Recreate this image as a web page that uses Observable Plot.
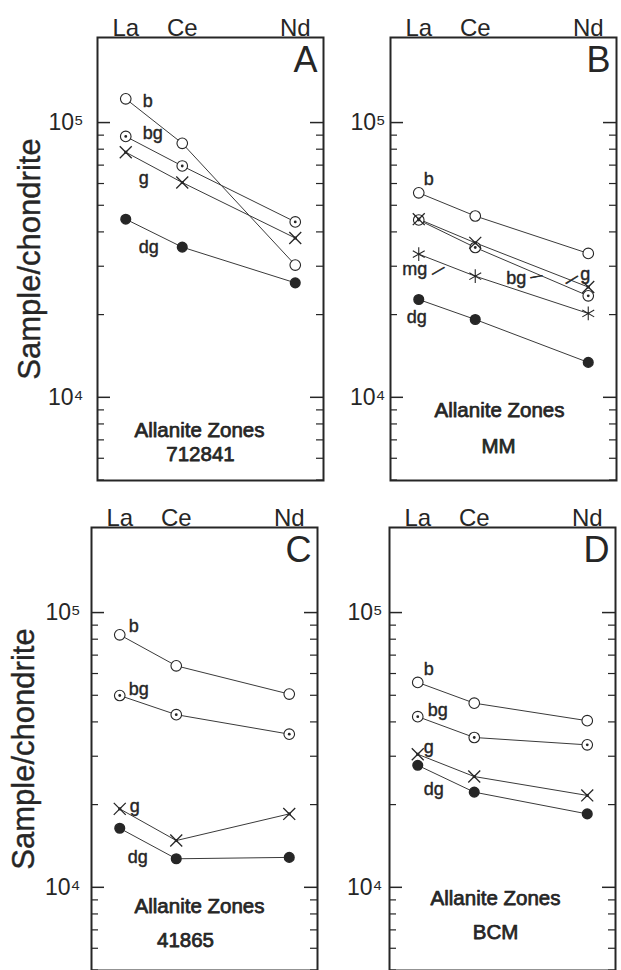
<!DOCTYPE html>
<html>
<head>
<meta charset="utf-8">
<script src="https://cdn.jsdelivr.net/npm/d3@7"></script>
<script src="https://cdn.jsdelivr.net/npm/@observablehq/plot@0.6"></script>
<style>
  body { margin: 0; background: #fff; }
  #chart { position: relative; width: 621px; height: 970px; overflow: hidden; background: #fff; }
  #chart svg { position: absolute; }
</style>
</head>
<body>
<div id="chart"></div>
<script>
// ---- categories ----
const elements = ["La", "Ce", "Nd"];
const atomicNumbers = [57, 58, 60];

// ---- tick values ----
const majorTicks = [1e4, 1e5];
const minorTicks = [5000, 6000, 7000, 8000, 9000, 2e4, 3e4, 4e4, 5e4, 6e4, 7e4, 8e4, 9e4];

// ---- Panel A : 712841 ----
const A_b  = [122000, 84000, 30300];
const A_bg = [89000, 69500, 43500];
const A_g  = [78000, 60500, 38000];
const A_dg = [44500, 35200, 26100];

// ---- Panel B : MM ----
const B_b  = [55500, 45700, 33400];
const B_bg = [44200, 35100, 23400];
const B_g  = [44500, 36500, 25200];
const B_mg = [33200, 27600, 20200];
const B_dg = [22700, 19200, 13400];

// ---- Panel C : 41865 ----
const C_b  = [83000, 64000, 50500];
const C_bg = [49900, 42500, 36100];
const C_g  = [19300, 14800, 18500];
const C_dg = [16400, 12700, 12850];

// ---- Panel D : BCM ----
const D_b  = [55700, 46800, 40400];
const D_bg = [41800, 35100, 33000];
const D_g  = [30500, 25300, 21600];
const D_dg = [27800, 22200, 18500];

const ink = "#262626";
const font = "'Liberation Sans', Arial, Helvetica, sans-serif";

function table(series) {
  const rows = [];
  for (const [zone, values] of series) {
    values.forEach((v, i) => rows.push({zone, el: elements[i], z: atomicNumbers[i], v}));
  }
  return rows;
}

const markerStyles = {
  b:  [{symbol: "circle", fill: "white", stroke: ink, r: 5.3, strokeWidth: 1.1}],
  bg: [{symbol: "circle", fill: "white", stroke: ink, r: 5.3, strokeWidth: 1.1}, {symbol: "circle", fill: ink, r: 1.4}],
  g:  [{symbol: "times", stroke: ink, r: 5.5, strokeWidth: 1.3}, {symbol: "square", fill: ink, r: 1.7}],
  mg: [{symbol: "asterisk", stroke: ink, r: 6.5, strokeWidth: 1.1}],
  dg: [{symbol: "circle", fill: ink, stroke: ink, r: 4.8}]
};

function panel(cfg) {
  const W = 226, H = 443;
  const rows = table(cfg.series);
  const zonesHere = cfg.series.map(d => d[0]);
  const marks = [
    Plot.frame({stroke: ink, strokeWidth: 2}),
    Plot.axisX(atomicNumbers, {
      anchor: "top", tickSize: 0, tickPadding: 2, label: null,
      tickFormat: d => elements[atomicNumbers.indexOf(d)],
      fontSize: 24, fill: ink, stroke: ink, strokeWidth: 0.3
    }),
    Plot.axisY(majorTicks, {
      anchor: "left", tickSize: 0, tickPadding: cfg.tickPad, label: null,
      tickFormat: d => d === 1e4 ? "10\u2074" : "10\u2075",
      fontSize: 23, fill: ink
    }),
    Plot.tickY(majorTicks, {insetRight: W - 13, stroke: ink, strokeWidth: 1.5}),
    Plot.tickY(majorTicks, {insetLeft: W - 13, stroke: ink, strokeWidth: 1.5}),
    Plot.tickY(minorTicks, {insetRight: W - 7, stroke: ink, strokeWidth: 1.2}),
    Plot.tickY(minorTicks, {insetLeft: W - 7, stroke: ink, strokeWidth: 1.2}),
    Plot.line(rows, {x: "z", y: "v", z: "zone", stroke: "#3a3a3a", strokeWidth: 1})
  ];
  for (const zone of zonesHere) {
    const sub = rows.filter(d => d.zone === zone);
    for (const st of markerStyles[zone]) {
      marks.push(Plot.dot(sub, {x: "z", y: "v", ...st}));
    }
  }
  for (const lab of cfg.labels) {
    const row = rows.find(d => d.zone === lab.zone && d.el === lab.at);
    marks.push(Plot.text([row], {
      x: "z", y: "v", text: () => lab.text ?? lab.zone,
      dx: lab.dx, dy: lab.dy, fontSize: lab.size ?? 18, rotate: lab.rotate ?? 0,
      fill: ink, stroke: ink, strokeWidth: lab.text ? 0.6 : 0.4, textAnchor: "middle", lineAnchor: "middle"
    }));
  }
  // panel letter
  marks.push(Plot.text([cfg.letter], {
    frameAnchor: "top-right", text: d => d, dx: -6, dy: 9,
    fontSize: 36, fontWeight: 300, fill: ink, textAnchor: "end", lineAnchor: "top"
  }));
  // caption inside frame
  marks.push(Plot.text(["Allanite Zones"], {
    frameAnchor: "bottom", text: d => d, dx: cfg.capDx, dy: cfg.capDy,
    fontSize: 20.5, fill: ink, stroke: ink, strokeWidth: 0.75, textAnchor: "middle", lineAnchor: "middle"
  }));
  marks.push(Plot.text([cfg.sample], {
    frameAnchor: "bottom", text: d => d, dx: cfg.nameDx, dy: cfg.nameDy,
    fontSize: 20.5, fill: ink, stroke: ink, strokeWidth: 0.75, textAnchor: "middle", lineAnchor: "middle"
  }));
  if (cfg.yLabel) {
    marks.push(Plot.text(["Sample/chondrite"], {
      frameAnchor: "left", text: d => d, rotate: -90, dx: cfg.yLabelDx, dy: cfg.yLabelDy,
      fontSize: 31, fill: ink, stroke: ink, strokeWidth: 0.4, textAnchor: "middle", lineAnchor: "middle"
    }));
  }
  const svg = Plot.plot({
    width: cfg.ml + W + cfg.mr,
    height: cfg.mt + H + cfg.mb,
    marginLeft: cfg.ml, marginRight: cfg.mr, marginTop: cfg.mt, marginBottom: cfg.mb,
    x: {domain: [56.5, 60.5]},
    y: {type: "log", domain: [4980, 2.04e5]},
    style: {fontFamily: font, background: "transparent", color: ink, overflow: "visible"},
    marks
  });
  svg.style.left = cfg.left + "px";
  svg.style.top = cfg.top + "px";
  document.getElementById("chart").appendChild(svg);
}

panel({
  letter: "A", sample: "712841",
  series: [["b", A_b], ["bg", A_bg], ["g", A_g], ["dg", A_dg]],
  labels: [
    {zone: "b", at: "La", dx: 22, dy: 2},
    {zone: "bg", at: "La", dx: 27, dy: -3},
    {zone: "g", at: "La", dx: 18, dy: 26},
    {zone: "dg", at: "La", dx: 23, dy: 28}
  ],
  left: 0, top: 0, ml: 97, mr: 3, mt: 37, mb: 3,
  tickPad: 14, capDx: -11, capDy: -50, nameDx: -10, nameDy: -26,
  yLabel: true, yLabelDx: -67, yLabelDy: 0
});

panel({
  letter: "B", sample: "MM",
  series: [["b", B_b], ["bg", B_bg], ["g", B_g], ["mg", B_mg], ["dg", B_dg]],
  labels: [
    {zone: "b", at: "La", dx: 10, dy: -14},
    {zone: "mg", at: "La", dx: -4, dy: 15},
    {zone: "mg", at: "La", dx: 19, dy: 16, text: "\u2014", size: 14, rotate: -30},
    {zone: "bg", at: "Nd", dx: -72, dy: -18},
    {zone: "bg", at: "Nd", dx: -52, dy: -20, text: "\u2014", size: 12, rotate: -10},
    {zone: "g", at: "Nd", dx: -3, dy: -13},
    {zone: "g", at: "Nd", dx: -17, dy: -8, text: "\u2014", size: 14, rotate: -32},
    {zone: "dg", at: "La", dx: -2, dy: 18}
  ],
  left: 326, top: 0, ml: 64, mr: 5, mt: 37, mb: 3,
  tickPad: 5, capDx: -4, capDy: -70, nameDx: -5, nameDy: -34,
  yLabel: false
});

panel({
  letter: "C", sample: "41865",
  series: [["b", C_b], ["bg", C_bg], ["g", C_g], ["dg", C_dg]],
  labels: [
    {zone: "b", at: "La", dx: 14, dy: -9},
    {zone: "bg", at: "La", dx: 19, dy: -6},
    {zone: "g", at: "La", dx: 15, dy: -3},
    {zone: "dg", at: "La", dx: 18, dy: 29}
  ],
  left: 0, top: 483, ml: 91, mr: 9, mt: 44, mb: 0,
  tickPad: 11, capDx: -5, capDy: -64, nameDx: -19, nameDy: -30,
  yLabel: true, yLabelDx: -67, yLabelDy: 0
});

panel({
  letter: "D", sample: "BCM",
  series: [["b", D_b], ["bg", D_bg], ["g", D_g], ["dg", D_dg]],
  labels: [
    {zone: "b", at: "La", dx: 11, dy: -13},
    {zone: "bg", at: "La", dx: 20, dy: -6},
    {zone: "g", at: "La", dx: 11, dy: -7},
    {zone: "dg", at: "La", dx: 16, dy: 24}
  ],
  left: 326, top: 483, ml: 63, mr: 6, mt: 44, mb: 0,
  tickPad: 7, capDx: -7, capDy: -72, nameDx: -7, nameDy: -38,
  yLabel: false
});
</script>
</body>
</html>
